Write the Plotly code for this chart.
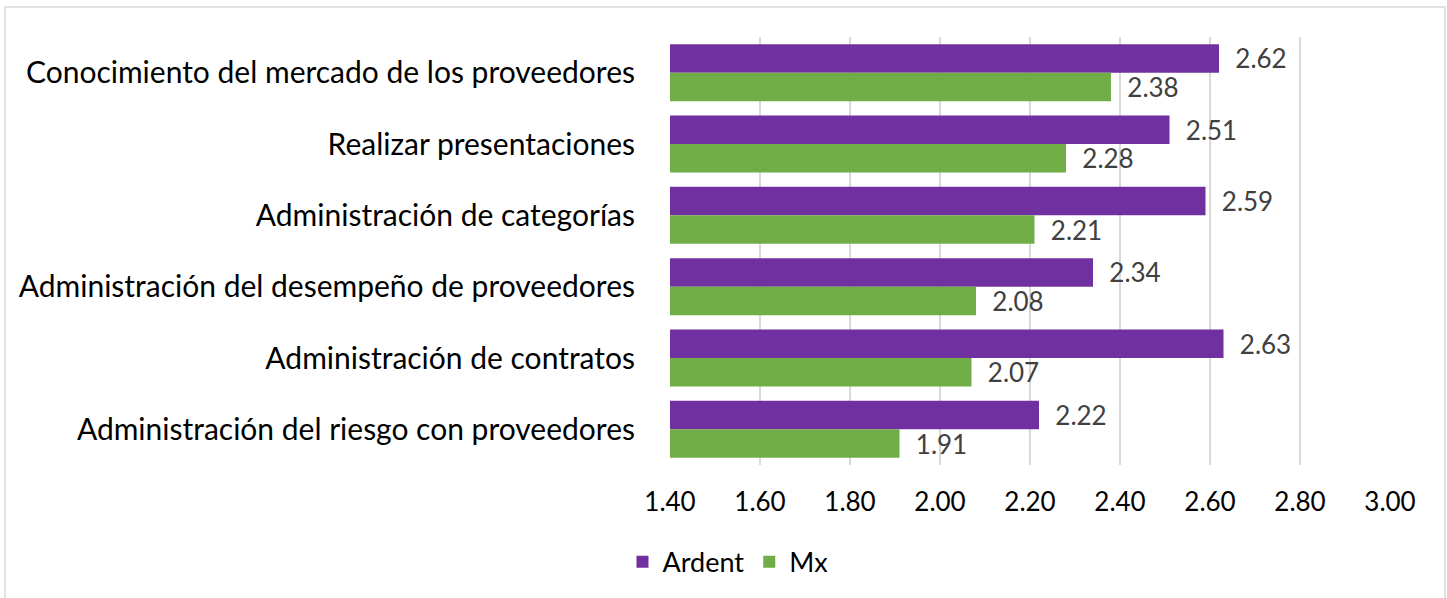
import plotly.graph_objects as go

categories = [
    "Conocimiento del mercado de los proveedores",
    "Realizar presentaciones",
    "Administración de categorías",
    "Administración del desempeño de proveedores",
    "Administración de contratos",
    "Administración del riesgo con proveedores",
]
ardent = [2.62, 2.51, 2.59, 2.34, 2.63, 2.22]
mx = [2.38, 2.28, 2.21, 2.08, 2.07, 1.91]
tick_vals = [1.40, 1.60, 1.80, 2.00, 2.20, 2.40, 2.60, 2.80, 3.00]
tick_text = ["1.40", "1.60", "1.80", "2.00", "2.20", "2.40", "2.60", "2.80", "3.00"]

W, H = 1447, 598
L, R, T, B = 670, 57, 37, 133
pw, ph = W - L - R, H - T - B

FONT = "Lato"

fig = go.Figure()
fig.add_trace(go.Bar(
    y=categories, x=ardent, name="Ardent", orientation="h",
    marker=dict(color="#7030A0", line=dict(width=0)),
    text=[f"  {v:.2f}" for v in ardent], textposition="outside",
    textfont=dict(family=FONT, size=26, color="#404040"),
    constraintext="none", cliponaxis=False,
))
fig.add_trace(go.Bar(
    y=categories, x=mx, name="Mx", orientation="h",
    marker=dict(color="#70AD47", line=dict(width=0)),
    text=[f"  {v:.2f}" for v in mx], textposition="outside",
    textfont=dict(family=FONT, size=26, color="#404040"),
    constraintext="none", cliponaxis=False,
))

fig.update_layout(
    width=W, height=H,
    margin=dict(l=L, r=R, t=T, b=B, autoexpand=False),
    paper_bgcolor="white", plot_bgcolor="white",
    barmode="group", bargap=0.2, bargroupgap=0,
    font=dict(family=FONT, color="#000000"),
    xaxis=dict(
        range=[1.4, 3.0], tickvals=tick_vals, ticktext=tick_text,
        showgrid=True, gridcolor="#D9D9D9", gridwidth=1.5,
        zeroline=False, showline=False,
        ticks="outside", ticklen=14, tickcolor="rgba(0,0,0,0)",
        tickfont=dict(family=FONT, size=26, color="#000000"),
    ),
    yaxis=dict(
        autorange="reversed", showgrid=False, zeroline=False, showline=False,
        ticks="outside", ticklen=28, tickcolor="rgba(0,0,0,0)",
        tickfont=dict(family=FONT, size=30, color="#000000"),
    ),
    legend=dict(
        orientation="h", x=-0.066, y=-0.17, xanchor="left", yanchor="top",
        font=dict(family=FONT, size=27, color="#000000"),
        itemwidth=30, tracegroupgap=0, traceorder="normal",
    ),
    showlegend=True,
    shapes=[dict(
        type="rect", xref="paper", yref="paper",
        x0=(5 - L) / pw, x1=(1445 - L) / pw,
        y0=-0.5, y1=(H - B - 7) / ph,
        line=dict(color="#D9D9D9", width=1.5), fillcolor="rgba(0,0,0,0)",
        layer="below",
    )],
)

fig.write_html(
    "out.html",
    config={"displayModeBar": False},
    post_script="document.body.style.margin='0';",
)
